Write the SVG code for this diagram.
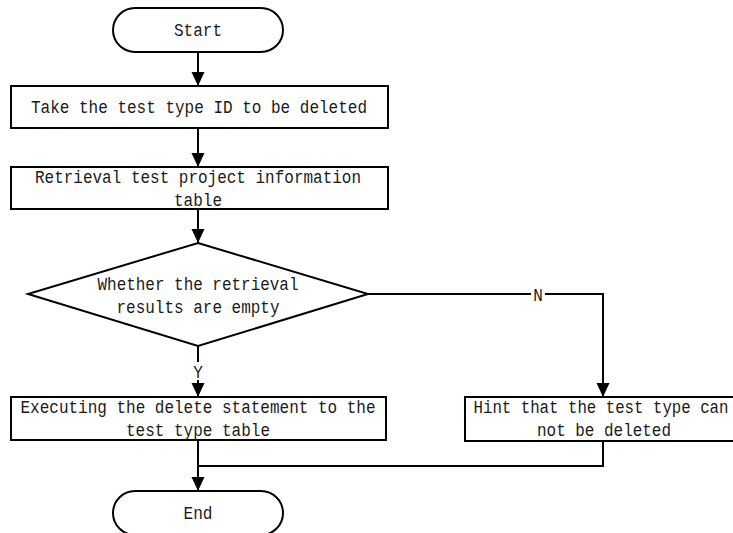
<svg xmlns="http://www.w3.org/2000/svg" width="733" height="533" viewBox="0 0 733 533">
  <style>
    .shape { fill: #ffffff; stroke: #000000; stroke-width: 2; }
    .wire { fill: none; stroke: #000000; stroke-width: 2; }
    .label { font-family: "Liberation Mono", "DejaVu Sans Mono", monospace; font-size: 19px; fill: #1a1a1a; text-anchor: middle; }
    .tag { fill: #ffffff; stroke: none; }
  </style>
  <defs>
    <marker id="arrow" markerUnits="userSpaceOnUse" markerWidth="14" markerHeight="16" viewBox="0 0 14 16" refX="14" refY="8" orient="auto">
      <path d="M0,1.5 L14,8 L0,14.5 Z" fill="#000000"/>
    </marker>
  </defs>

  <rect width="733" height="533" fill="#ffffff"/>

  <!-- connectors -->
  <g id="connectors">
    <line class="wire" x1="198" y1="52" x2="198" y2="86" marker-end="url(#arrow)"/>
    <line class="wire" x1="198" y1="128" x2="198" y2="167" marker-end="url(#arrow)"/>
    <line class="wire" x1="198" y1="209" x2="198" y2="243" marker-end="url(#arrow)"/>
    <line class="wire" x1="198" y1="346" x2="198" y2="397" marker-end="url(#arrow)"/>
    <polyline class="wire" points="368,294 603,294 603,397" marker-end="url(#arrow)"/>
    <line class="wire" x1="198" y1="440" x2="198" y2="491" marker-end="url(#arrow)"/>
    <polyline class="wire" points="603,441 603,466 198,466"/>
    <rect class="tag" x="191" y="362" width="14" height="18"/>
    <text class="label" x="198" y="378" textLength="9.6" lengthAdjust="spacingAndGlyphs">Y</text>
    <rect class="tag" x="531" y="287" width="14" height="16"/>
    <text class="label" x="538" y="301" textLength="9.6" lengthAdjust="spacingAndGlyphs">N</text>
  </g>

  <g id="start">
    <rect class="shape" x="113" y="8" width="170" height="44" rx="22" ry="22"/>
    <text class="label" x="198" y="36" textLength="48" lengthAdjust="spacingAndGlyphs">Start</text>
  </g>

  <g id="take-id">
    <rect class="shape" x="11" y="86" width="377" height="42"/>
    <text class="label" x="199" y="113" textLength="336" lengthAdjust="spacingAndGlyphs">Take the test type ID to be deleted</text>
  </g>

  <g id="retrieve">
    <rect class="shape" x="11" y="167" width="377" height="42"/>
    <text class="label" x="198" y="183" textLength="326" lengthAdjust="spacingAndGlyphs">Retrieval test project information</text>
    <text class="label" x="198" y="206" textLength="48" lengthAdjust="spacingAndGlyphs">table</text>
  </g>

  <g id="is-empty">
    <polygon class="shape" points="198,243 368,294 198,346 28,294"/>
    <text class="label" x="198" y="290" textLength="201" lengthAdjust="spacingAndGlyphs">Whether the retrieval</text>
    <text class="label" x="198" y="313" textLength="163" lengthAdjust="spacingAndGlyphs">results are empty</text>
  </g>

  <g id="delete">
    <rect class="shape" x="11" y="397" width="375" height="43"/>
    <text class="label" x="198" y="413" textLength="355" lengthAdjust="spacingAndGlyphs">Executing the delete statement to the</text>
    <text class="label" x="198" y="436" textLength="144" lengthAdjust="spacingAndGlyphs">test type table</text>
  </g>

  <!-- right edge of this box runs past the canvas -->
  <g id="hint">
    <rect class="shape" x="465" y="397" width="277" height="44"/>
    <text class="label" x="601" y="413" textLength="255" lengthAdjust="spacingAndGlyphs">Hint that the test type can</text>
    <text class="label" x="604" y="436" textLength="134" lengthAdjust="spacingAndGlyphs">not be deleted</text>
  </g>

  <g id="end">
    <rect class="shape" x="113" y="491" width="170" height="44" rx="22" ry="22"/>
    <text class="label" x="198" y="519" textLength="29" lengthAdjust="spacingAndGlyphs">End</text>
  </g>
</svg>
